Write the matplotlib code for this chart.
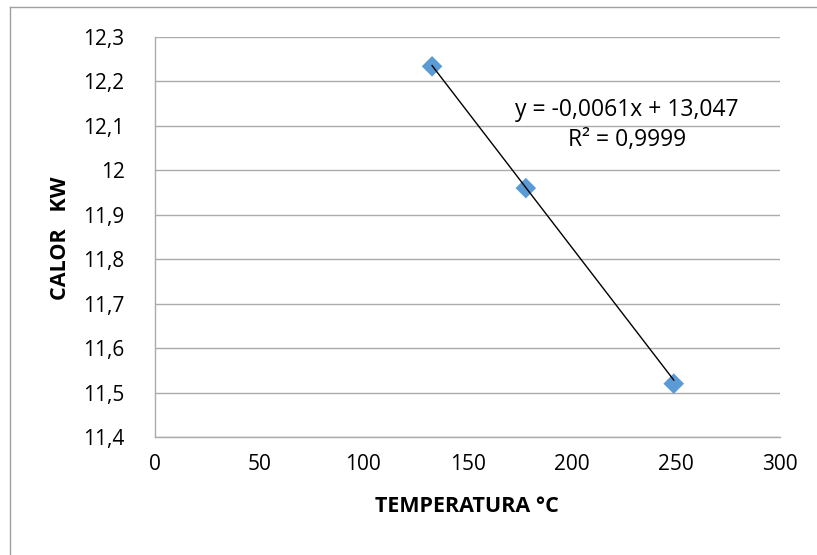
import matplotlib
matplotlib.use("Agg")
import matplotlib.pyplot as plt
from matplotlib.lines import Line2D
import numpy as np

# Measured data: heat (kW) against temperature (°C)
temperatura = [133, 178, 249]
calor = [12.234, 11.960, 11.520]

# Linear trendline coefficients
pendiente = -0.0061
intercepto = 13.047
r2 = 0.9999

x_ticks = [0, 50, 100, 150, 200, 250, 300]
y_ticks = [11.4, 11.5, 11.6, 11.7, 11.8, 11.9, 12.0, 12.1, 12.2, 12.3]


def fmt_es(v):
    s = f"{v:.1f}".rstrip("0").rstrip(".")
    return s.replace(".", ",")


plt.rcParams["font.family"] = ["Open Sans", "DejaVu Sans"]

W, H = 817, 555
fig = plt.figure(figsize=(W / 100, H / 100), dpi=100)
fig.patch.set_facecolor("white")

# Chart area frame (top and left edges)
frame = "#A0A0A0"
fig.add_artist(Line2D([9.5 / W, 1.0], [1 - 6.5 / H, 1 - 6.5 / H],
                      transform=fig.transFigure, color=frame, lw=1.0))
fig.add_artist(Line2D([9.5 / W, 9.5 / W], [0.0, 1 - 6.5 / H],
                      transform=fig.transFigure, color=frame, lw=1.0))

ax = fig.add_axes([155 / W, 1 - 437 / H, (780 - 155) / W, (437 - 37) / H])
ax.set_xlim(0, 300)
ax.set_ylim(11.4, 12.3)
ax.set_xticks(x_ticks)
ax.set_yticks(y_ticks)
ax.set_xticklabels([str(v) for v in x_ticks])
ax.set_yticklabels([fmt_es(v) for v in y_ticks])
ax.tick_params(length=0, labelsize=15, colors="black")
ax.tick_params(axis="x", pad=12)
ax.tick_params(axis="y", pad=22)

ax.grid(axis="y", color="#ABABAB", lw=1.0)
ax.set_axisbelow(True)
for side in ["top", "right"]:
    ax.spines[side].set_visible(False)
for side in ["left", "bottom"]:
    ax.spines[side].set_color("#ABABAB")
    ax.spines[side].set_linewidth(1.0)

# Trendline across the data range
xl = np.array([min(temperatura), max(temperatura)])
ax.plot(xl, pendiente * xl + intercepto, color="black", lw=1.0, zorder=3)

ax.scatter(temperatura, calor, marker="D", s=110, color="#5B9BD5",
           edgecolors="none", zorder=2)

eq = f"y = {pendiente:.4f}x + {intercepto:.3f}".replace(".", ",")
r2_txt = f"R² = {r2:.4f}".replace(".", ",")
fig.text(627 / W, 1 - 110 / H, eq, ha="center", va="center", fontsize=16.5)
fig.text(627 / W, 1 - 140 / H, r2_txt, ha="center", va="center", fontsize=16.5)

fig.text(467 / W, 1 - 507 / H, "TEMPERATURA °C", ha="center", va="center",
         fontsize=15.5, fontweight="bold")
fig.text(60 / W, 1 - 238 / H, "CALOR   KW", ha="center", va="center",
         rotation=90, fontsize=15.5, fontweight="bold")

fig.savefig("out.png", dpi=100)
